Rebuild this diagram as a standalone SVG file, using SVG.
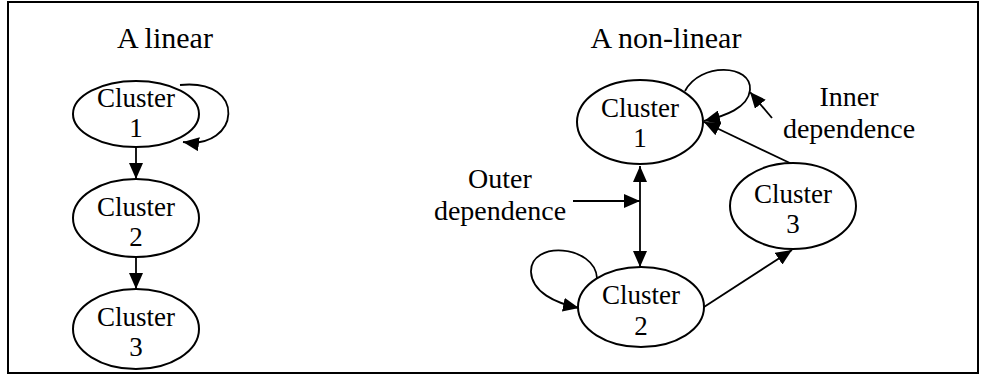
<svg xmlns="http://www.w3.org/2000/svg" width="983" height="385" viewBox="0 0 983 385">
<style>
text{font-family:"Liberation Serif","Times New Roman",serif;fill:#000;text-anchor:middle}
.t{font-size:30px}
.l{font-size:27px}
.d{font-size:28px}
.n{fill:#fff;stroke:#000;stroke-width:2}
.e{fill:none;stroke:#000;stroke-width:1.8}
</style>
<defs>
<marker id="ah" markerWidth="16" markerHeight="14" refX="16" refY="7" orient="auto-start-reverse" markerUnits="userSpaceOnUse">
<path d="M0,0 L16,7 L0,14 Z" fill="#000"/>
</marker>
</defs>
<rect x="8" y="2" width="970" height="371" fill="#fff" stroke="#000" stroke-width="2"/>
<text class="t" x="165" y="48">A linear</text>
<text class="t" x="666" y="48">A non-linear</text>
<g id="connectors">
<path class="e" d="M136,147 V179" marker-end="url(#ah)"/>
<path class="e" d="M136,257 V289" marker-end="url(#ah)"/>
<path class="e" d="M180,85 C248,78 240,150 183,142" marker-end="url(#ah)"/>
<path class="e" d="M640,166 V267" marker-start="url(#ah)" marker-end="url(#ah)"/>
<path class="e" d="M573,201 H640" marker-end="url(#ah)"/>
<path class="e" d="M597,278 C595,245 530,240 531,272 C532,292 555,303 579,308" marker-end="url(#ah)"/>
<path class="e" d="M704,307 L792,250" marker-end="url(#ah)"/>
<path class="e" d="M792,164 L704,122" marker-end="url(#ah)"/>
<path class="e" d="M685,91 C700,62 752,64 750,90 C748,108 725,116 704,121" marker-end="url(#ah)"/>
<path class="e" d="M772,118 L750,92" marker-end="url(#ah)"/>
</g>
<g id="lin-c1"><ellipse class="n" cx="136" cy="114" rx="63" ry="33"/><text class="l" x="136" y="107">Cluster</text><text class="l" x="136" y="137">1</text></g>
<g id="lin-c2"><ellipse class="n" cx="136" cy="218" rx="63" ry="39"/><text class="l" x="136" y="216">Cluster</text><text class="l" x="136" y="246">2</text></g>
<g id="lin-c3"><ellipse class="n" cx="136" cy="329" rx="63" ry="40"/><text class="l" x="136" y="326">Cluster</text><text class="l" x="136" y="356">3</text></g>
<g id="nl-c1"><ellipse class="n" cx="640" cy="122" rx="63" ry="42"/><text class="l" x="640" y="117">Cluster</text><text class="l" x="640" y="147">1</text></g>
<g id="nl-c2"><ellipse class="n" cx="641" cy="307" rx="63" ry="40"/><text class="l" x="641" y="304">Cluster</text><text class="l" x="641" y="335">2</text></g>
<g id="nl-c3"><ellipse class="n" cx="793" cy="206" rx="63" ry="43"/><text class="l" x="793" y="203">Cluster</text><text class="l" x="793" y="233">3</text></g>
<g id="outer-label"><text class="d" x="500" y="188">Outer</text><text class="d" x="500" y="220">dependence</text></g>
<g id="inner-label"><text class="d" x="849" y="106">Inner</text><text class="d" x="849" y="138">dependence</text></g>
</svg>
